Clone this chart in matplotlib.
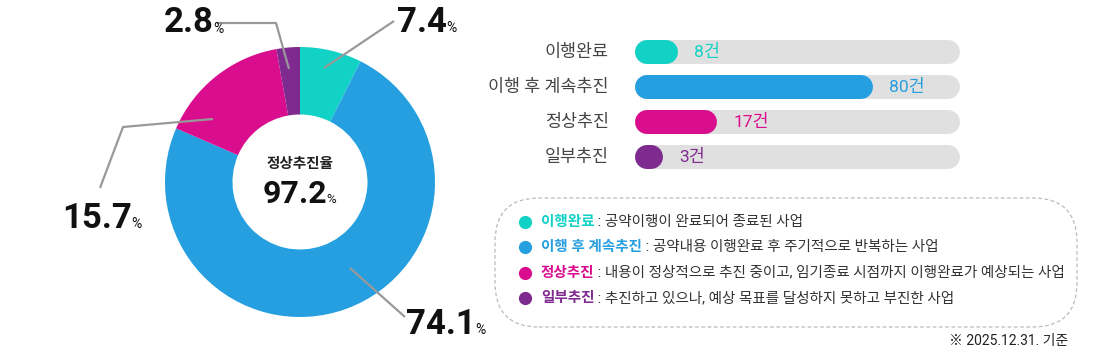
import matplotlib.pyplot as plt
from matplotlib.patches import FancyBboxPatch
from matplotlib.lines import Line2D

plt.rcParams['font.family'] = ['Roboto', 'Noto Sans CJK KR', 'DejaVu Sans']

# 데이터
categories = ["이행완료", "이행 후 계속추진", "정상추진", "일부추진"]
counts = [8, 80, 17, 3]
shares = [7.4, 74.1, 15.7, 2.8]
fill_pct = [13.2, 73.2, 25.2, 8.6]   # 막대 채움 길이(트랙 대비 %)
colors = ["#12D1C5", "#259FDF", "#D90D8E", "#7E2A8F"]
descs = [
    " : 공약이행이 완료되어 종료된 사업",
    " : 공약내용 이행완료 후 주기적으로 반복하는 사업",
    " : 내용이 정상적으로 추진 중이고, 임기종료 시점까지 이행완료가 예상되는 사업",
    " : 추진하고 있으나, 예상 목표를 달성하지 못하고 부진한 사업",
]
center_title = "정상추진율"
center_value = "97.2"
footnote = "※ 2025.12.31. 기준"

W, H = 1097, 362
fig = plt.figure(figsize=(W / 100, H / 100), dpi=100)

# --- 도넛 ---
cx, cy, R = 300, 182, 135
ax = fig.add_axes([(cx - R) / W, (H - cy - R) / H, 2 * R / W, 2 * R / H])
ax.pie(shares, colors=colors, startangle=90, counterclock=False, radius=1,
       wedgeprops=dict(width=0.5, linewidth=0))
ax.set_xlim(-1, 1)
ax.set_ylim(-1, 1)
ax.axis('off')


def d(px, py):
    return ((px - cx) / R, (cy - py) / R)


leaders = [
    [(324, 68), (394, 21)],
    [(350, 268), (405, 317)],
    [(213, 119), (123, 127), (100, 188)],
    [(289, 69), (276, 23), (217, 23)],
]
for pts in leaders:
    xs, ys = zip(*[d(*p) for p in pts])
    ax.plot(xs, ys, color="#999999", lw=1.6, clip_on=False, solid_capstyle='butt')

label_pos = [(397, 22), (406, 324), (62, 218), (164, 23)]
for s, (px, py) in zip(shares, label_pos):
    t = ax.text(*d(px, py), f"{s}", fontsize=25, fontweight='bold', color="#111111",
                ha='left', va='center', clip_on=False)
    ax.annotate("%", xy=(1, 0.12), xycoords=t, xytext=(-0.5, 0), textcoords='offset points',
                fontsize=10, color="#111111", ha='left', va='bottom')

ax.text(0, 0.13, center_title, fontsize=10.5, fontweight='bold', color="#222222",
        ha='center', va='center')
t = ax.text(-0.04, -0.09, center_value, fontsize=23, fontweight='bold', color="#111111",
            ha='center', va='center')
ax.annotate("%", xy=(1, 0.12), xycoords=t, xytext=(-0.5, 0), textcoords='offset points',
            fontsize=9.5, color="#111111", ha='left', va='bottom')

# --- 막대 ---
bx0, bx1 = 635, 960
by_top, by_bot = 34, 175
bax = fig.add_axes([bx0 / W, (H - by_bot) / H, (bx1 - bx0) / W, (by_bot - by_top) / H])
bax.set_xlim(0, 100)
bax.set_ylim(3.5, -0.5)
bax.axis('off')
lw_px = 24
lw_pt = lw_px * 72 / 100
r = (lw_px / 2) / (bx1 - bx0) * 100
for i, (cat, n, f, c) in enumerate(zip(categories, counts, fill_pct, colors)):
    bax.plot([r, 100 - r], [i, i], color="#E0E0E0", lw=lw_pt, solid_capstyle='round')
    bax.plot([r, max(f - r, r)], [i, i], color=c, lw=lw_pt, solid_capstyle='round')
    bax.text(f + 5, i, f"{n}건", color=c, fontsize=12.5, ha='left', va='center')
    bax.annotate(cat, xy=(0, i), xycoords='data', xytext=(-19, 0), textcoords='offset points',
                 fontsize=12.5, color="#444444", ha='right', va='center')

# --- 범례 박스 ---
box = FancyBboxPatch((495 / W, (H - 327) / H), (1077 - 495) / W, (327 - 198) / H,
                     boxstyle="round,pad=0,rounding_size=0.04", transform=fig.transFigure,
                     fill=False, edgecolor="#BBBBBB", linestyle=(0, (3, 2)), lw=0.9,
                     mutation_aspect=W / H)
fig.add_artist(box)
for i, (cat, desc, c) in enumerate(zip(categories, descs, colors)):
    y = 222 + i * 25.3
    fig.add_artist(Line2D([525 / W], [(H - y) / H], transform=fig.transFigure,
                          marker='o', markersize=9.5, color=c, markeredgewidth=0))
    t = fig.text(541 / W, (H - y) / H, cat, fontsize=10.5, fontweight='bold', color=c,
                 ha='left', va='center')
    plt.annotate(desc, xy=(1, 0.5), xycoords=t, xytext=(0, 0), textcoords='offset points',
                 fontsize=10.5, color="#333333", ha='left', va='center',
                 annotation_clip=False)

fig.text(1068 / W, (H - 341) / H, footnote, fontsize=10, color="#222222",
         ha='right', va='center')

fig.savefig("out.png", dpi=100)
